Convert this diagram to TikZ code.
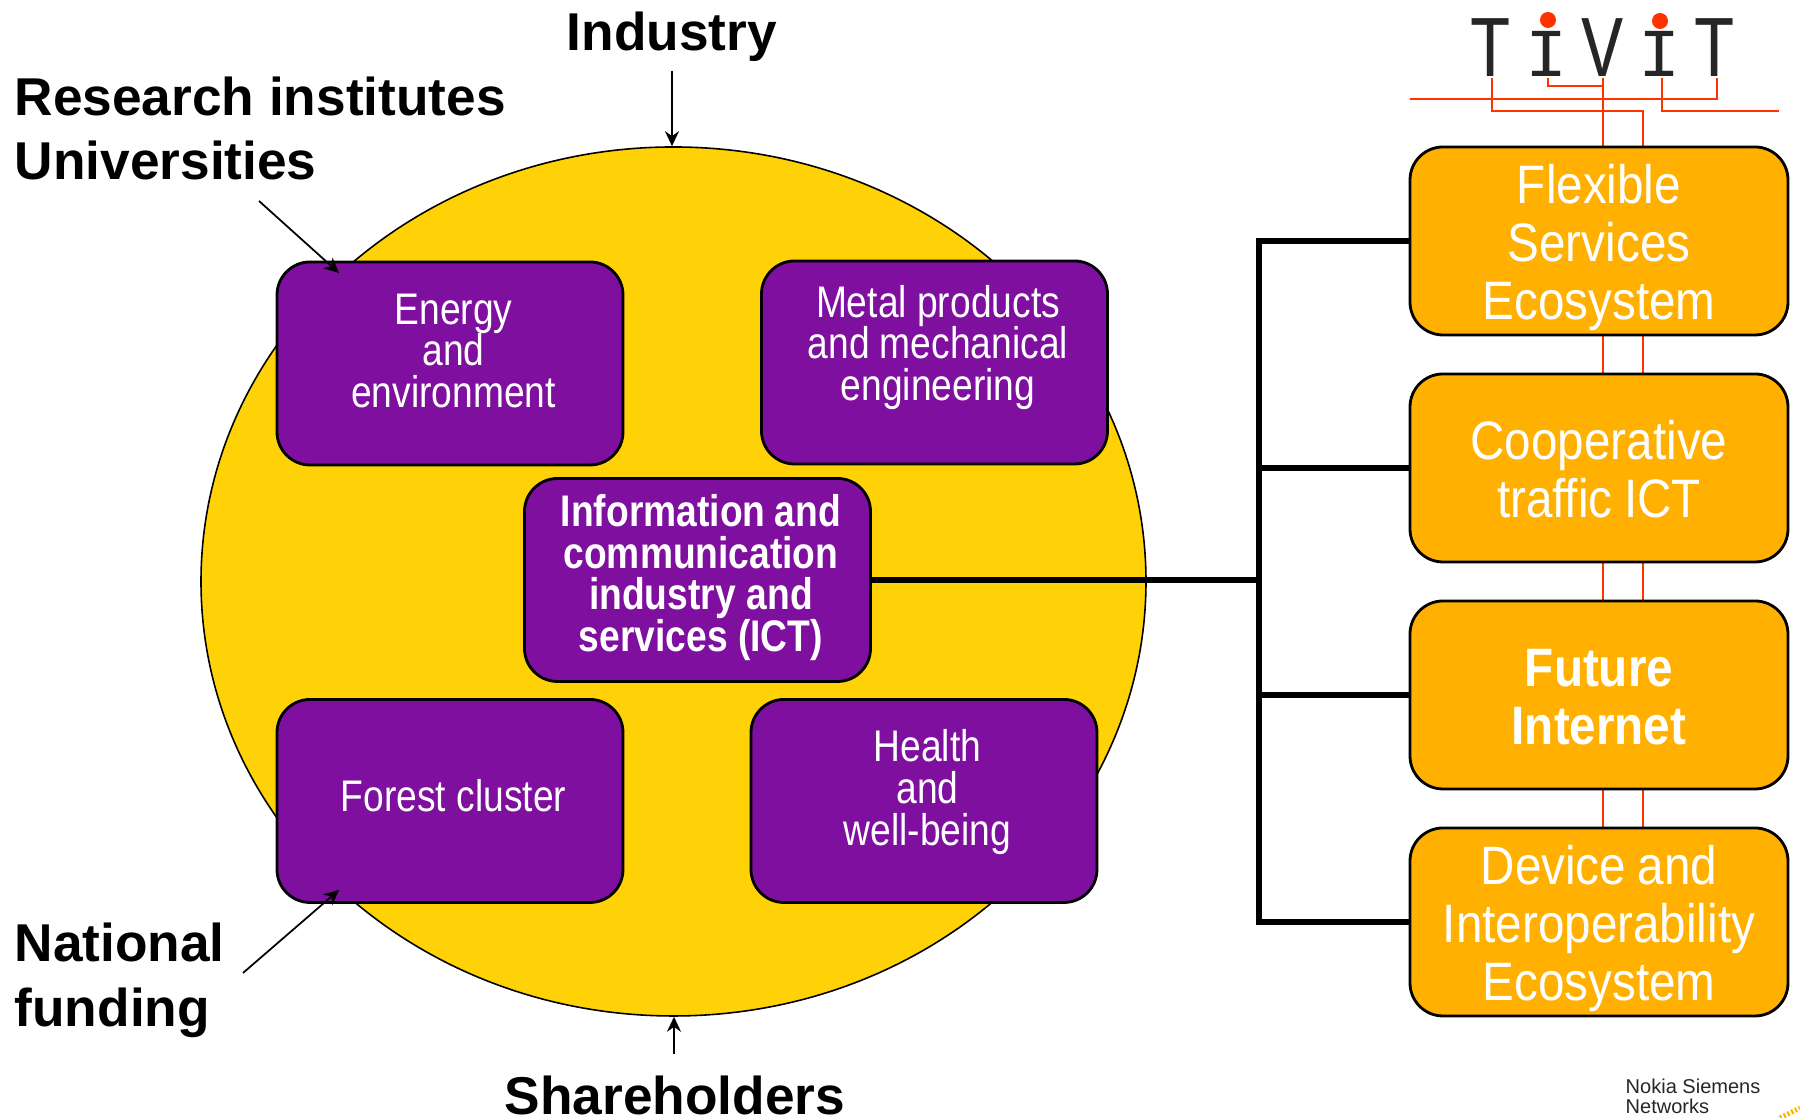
\documentclass[tikz,border=0pt]{standalone}
\usepackage{fontspec}
\setmainfont{Liberation Sans}
\newfontfamily\tallfont[FakeStretch=0.88,WordSpace=0.88]{Liberation Sans}
\newfontfamily\slimfont[FakeStretch=0.84,WordSpace=0.84]{Liberation Sans}
\newfontfamily\logofont{Liberation Mono}
\usetikzlibrary{arrows.meta,shapes,calc,positioning}
\definecolor{clusteryellow}{HTML}{FFD208}
\definecolor{clusterpurple}{HTML}{7F0F9F}
\definecolor{programorange}{HTML}{FFB000}
\definecolor{logored}{HTML}{FF3300}
\tikzset{
	purplebox/.style={draw, line width=0.8pt, rounded corners=0.33cm, fill=clusterpurple, text=white, minimum width=3.46cm, minimum height=2.03cm, inner ysep=0pt, text width=3.2cm, align=center, execute at begin node={\advance\leftskip by 0.07cm \spaceskip=0pt \xspaceskip=0pt}, font=\slimfont\fontsize{12.6pt}{11.9pt}\selectfont},
	orangebox/.style={draw, line width=0.8pt, rounded corners=0.33cm, fill=programorange, text=white, minimum width=3.78cm, minimum height=1.88cm, inner ysep=0pt, align=center, font=\tallfont\fontsize{15.4pt}{16.4pt}\selectfont},
	biglabel/.style={font=\fontsize{15.15pt}{18.4pt}\selectfont\bfseries, inner sep=0pt, align=left},
	inarrow/.style={line width=0.5pt, -{Stealth[length=0.15cm,width=0.14cm]}},
	busline/.style={line width=1.75pt},
	redline/.style={line width=0.45pt, logored},
	logoletter/.style={font=\logofont\fontsize{25pt}{25pt}\selectfont, inner sep=0pt, anchor=base, text=black!85, xscale=0.8}
}
\begin{document}
\begin{tikzpicture}
	\useasboundingbox (0,0) rectangle (18,11.18);
	% circle of the clusters
	\node [draw, line width=0.45pt, fill=clusteryellow, ellipse, inner sep=0pt, minimum width=9.45cm, minimum height=8.69cm] (clusters) at (6.735,5.365) {};
	% logo wires run behind the boxes
	\draw [redline] (14.10,10.19) -- (17.17,10.19) -- (17.17,10.40);
	\draw [redline] (14.92,10.40) -- (14.92,10.07) -- (16.43,10.07) -- (16.43,2.90);
	\draw [redline] (15.48,10.40) -- (15.48,10.32) -- (16.03,10.32);
	\draw [redline] (16.03,10.40) -- (16.03,2.90);
	\draw [redline] (16.62,10.40) -- (16.62,10.07) -- (17.79,10.07);
	% logo
	\node [logoletter] (logoA) at (14.91,10.41) {T};
	\node [logoletter, yscale=0.78] (logoB) at (15.47,10.41) {I};
	\node [logoletter] (logoC) at (16.03,10.41) {V};
	\node [logoletter, yscale=0.78] (logoD) at (16.60,10.41) {I};
	\node [logoletter] (logoE) at (17.15,10.41) {T};
	\fill [logored] (15.48,10.98) circle (0.08);
	\fill [logored] (16.60,10.97) circle (0.08);
	% clusters
	\node [purplebox] (energy) at (4.50,7.545) {Energy\\and\\environment\par\vspace{0.25cm}};
	\node [purplebox] (metal) at (9.345,7.555) {Metal products\\and mechanical\\engineering\par\vspace{0.30cm}};
	\node [purplebox] (ict) at (6.975,5.38) {\bfseries Information and\\\bfseries communication\\\bfseries industry and\\\bfseries services (ICT)\par\vspace{0.05cm}};
	\node [purplebox] (forest) at (4.50,3.17) {Forest cluster\par\vspace{0.115cm}};
	\node [purplebox] (health) at (9.24,3.17) {Health\\and\\well-being\par\vspace{0.18cm}};
	% programmes
	\node [orangebox] (flexible) at (15.99,8.77) {\rule{0pt}{0.52cm}Flexible\\Services\\Ecosystem};
	\node [orangebox] (cooperative) at (15.99,6.50) {\rule{0pt}{0.42cm}Cooperative\\traffic ICT};
	\node [orangebox] (future) at (15.99,4.23) {\rule{0pt}{0.42cm}\bfseries Future\\\bfseries Internet};
	\node [orangebox] (device) at (15.99,1.96) {\rule{0pt}{0.52cm}Device and\\Interoperability\\Ecosystem};
	% bus
	\coordinate (busTop) at (12.59,8.77);
	\coordinate (busEnd) at (12.62,5.38);
	\draw [busline] (flexible.west) -- (busTop) -- (busTop |- device.west) -- (device.west);
	\draw [busline] (cooperative.west) -- (cooperative.west -| busTop);
	\draw [busline] (future.west) -- (future.west -| busTop);
	\draw [busline] (ict.east) -- (busEnd);
	% stakeholders
	\node [biglabel] (industry) at (6.72,10.81) {Industry};
	\node [biglabel, anchor=west] (research) at (0.14,9.895) {Research institutes\\Universities};
	\node [biglabel, anchor=west] (funding) at (0.14,1.375) {National\\funding};
	\node [biglabel] (shareholders) at (6.75,0.225) {Shareholders};
	\coordinate (industryTail) at (6.72,10.47);
	\coordinate (researchTail) at (2.59,9.17);
	\coordinate (researchHead) at (3.39,8.45);
	\coordinate (fundingTail) at (2.43,1.45);
	\coordinate (fundingHead) at (3.39,2.28);
	\coordinate (shareholdersTail) at (6.74,0.64);
	\draw [inarrow] (industryTail) -- (industryTail |- clusters.north);
	\draw [inarrow] (researchTail) -- (researchHead);
	\draw [inarrow] (fundingTail) -- (fundingHead);
	\draw [inarrow] (shareholdersTail) -- (shareholdersTail |- clusters.south);
	% corner logo
	\node [font=\fontsize{5.7pt}{5.9pt}\selectfont, text=black!85, anchor=north west, inner sep=0pt, align=left] (nsn) at (16.25,0.40) {Nokia Siemens\\Networks};
	\draw [line width=1.4pt, programorange, dash pattern=on 0.6pt off 0.6pt] (17.80,0.00) -- (18.00,0.10);
\end{tikzpicture}
\end{document}
